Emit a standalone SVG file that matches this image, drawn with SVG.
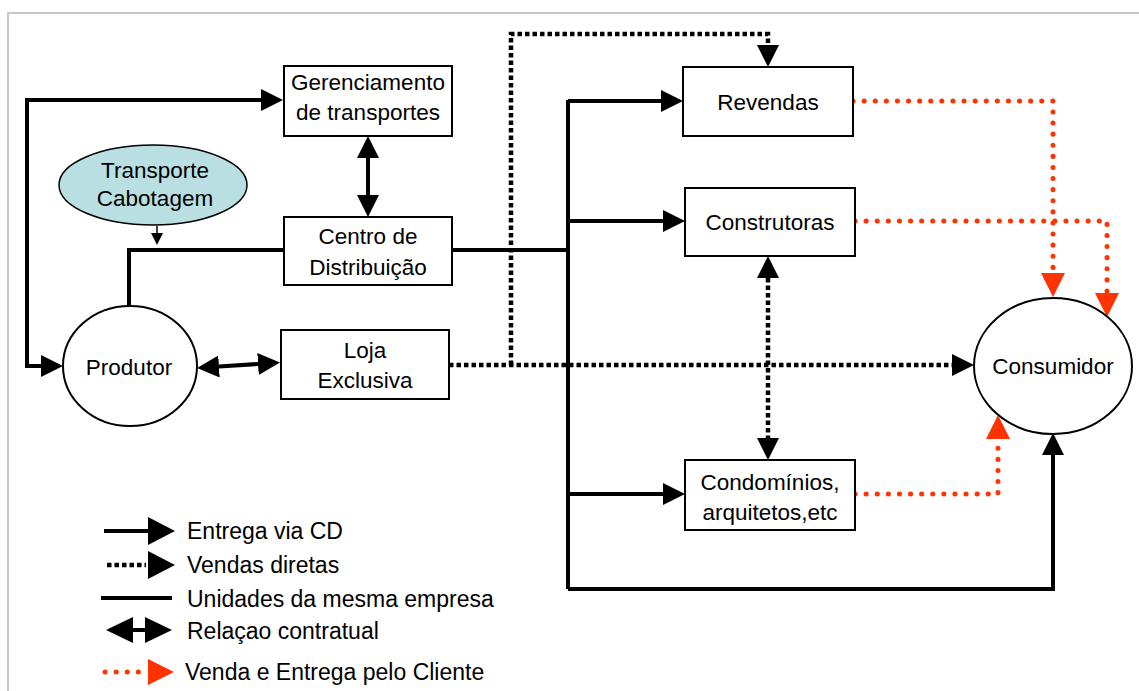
<svg xmlns="http://www.w3.org/2000/svg" width="1139" height="691" viewBox="0 0 1139 691">
  <style>
    .box { fill: #ffffff; stroke: #000000; stroke-width: 2; }
    .oval { fill: #ffffff; stroke: #000000; stroke-width: 2; }
    .sea { fill: #b9dfe2; stroke: #000000; stroke-width: 1.5; }
    .lbl { font-family: "Liberation Sans", Arial, sans-serif; font-size: 22.5px; fill: #000000; text-anchor: middle; }
    .key { font-family: "Liberation Sans", Arial, sans-serif; font-size: 23px; fill: #000000; }
    .solid { fill: none; stroke: #000000; stroke-width: 4; }
    .dots { fill: none; stroke: #000000; stroke-width: 4.5; stroke-dasharray: 4.5 3; }
    .red { fill: none; stroke: #ff3300; stroke-width: 5; stroke-linecap: round; stroke-dasharray: 0.1 11; }
    .frame { fill: none; stroke: #c8c8c8; stroke-width: 2; }
  </style>
  <defs>
    <!-- heads start at the path end and extend beyond it -->
    <marker id="ah" markerUnits="userSpaceOnUse" markerWidth="22" markerHeight="22" viewBox="0 0 22 22" refX="0" refY="11" orient="auto-start-reverse">
      <path d="M0,0 L22,11 L0,22 Z" fill="#000000"/>
    </marker>
    <marker id="ahs" markerUnits="userSpaceOnUse" markerWidth="12" markerHeight="12" viewBox="0 0 12 12" refX="0" refY="6" orient="auto">
      <path d="M0,0 L12,6 L0,12 Z" fill="#000000"/>
    </marker>
    <marker id="ahr" markerUnits="userSpaceOnUse" markerWidth="24" markerHeight="24" viewBox="0 0 24 24" refX="0" refY="12" orient="auto">
      <path d="M0,0 L24,12 L0,24 Z" fill="#ff3300"/>
    </marker>
  </defs>

  <rect width="1139" height="691" fill="#ffffff"/>
  <path class="frame" d="M8,691 V13 H1139"/>

  <g id="connectors">
    <!-- producer loop to transport management -->
    <path class="solid" d="M41,366 H27 V100 H261" marker-start="url(#ah)" marker-end="url(#ah)"/>
    <!-- management <-> distribution centre -->
    <path class="solid" d="M368,158 V195" stroke-width="5" marker-start="url(#ah)" marker-end="url(#ah)"/>
    <!-- coastal shipping feed -->
    <path d="M157,226 V233" stroke="#000000" stroke-width="1.5" marker-end="url(#ahs)"/>
    <!-- distribution centre to producer -->
    <path class="solid" d="M284,250 H129 V307" stroke-width="3"/>
    <!-- producer <-> exclusive store -->
    <path class="solid" d="M219,366.5 L258,364" marker-start="url(#ah)" marker-end="url(#ah)"/>
    <!-- distribution bus -->
    <path class="solid" d="M452,250 H568"/>
    <path class="solid" d="M568,100 V589"/>
    <path class="solid" d="M568,222 V495" stroke-width="6"/>
    <path class="solid" d="M568,101 H661" marker-end="url(#ah)"/>
    <path class="solid" d="M568,221 H663" marker-end="url(#ah)"/>
    <path class="solid" d="M568,494 H663" marker-end="url(#ah)"/>
    <path class="solid" d="M568,589 H1053 V455" marker-end="url(#ah)"/>
    <!-- direct sales -->
    <path class="dots" d="M449,365 H952" marker-end="url(#ah)"/>
    <path class="dots" d="M511,365 V34 H768 V45" marker-end="url(#ah)"/>
    <path class="dots" d="M768,278 V438" marker-start="url(#ah)" marker-end="url(#ah)"/>
    <!-- customer pick-up -->
    <path class="red" d="M853,101 H1053 V273" marker-end="url(#ahr)"/>
    <path class="red" d="M855,221 H1107 V293" marker-end="url(#ahr)"/>
    <path class="red" d="M855,494 H998 V439" marker-end="url(#ahr)"/>
  </g>

  <g id="gerenciamento">
    <rect class="box" x="284" y="66" width="168" height="70"/>
    <text class="lbl" x="368" y="90">Gerenciamento</text>
    <text class="lbl" x="368" y="120">de transportes</text>
  </g>
  <g id="cabotagem">
    <ellipse class="sea" cx="153" cy="185" rx="94" ry="40"/>
    <text class="lbl" x="155" y="178">Transporte</text>
    <text class="lbl" x="155" y="206">Cabotagem</text>
  </g>
  <g id="centro">
    <rect class="box" x="284" y="217" width="168" height="68"/>
    <text class="lbl" x="368" y="244">Centro de</text>
    <text class="lbl" x="368" y="275">Distribuição</text>
  </g>
  <g id="produtor">
    <ellipse class="oval" cx="130" cy="366" rx="67" ry="60"/>
    <text class="lbl" x="129" y="375">Produtor</text>
  </g>
  <g id="loja">
    <rect class="box" x="281" y="330" width="168" height="69"/>
    <text class="lbl" x="365" y="358">Loja</text>
    <text class="lbl" x="365" y="388">Exclusiva</text>
  </g>
  <g id="revendas">
    <rect class="box" x="683" y="67" width="170" height="69"/>
    <text class="lbl" x="768" y="110">Revendas</text>
  </g>
  <g id="construtoras">
    <rect class="box" x="685" y="188" width="170" height="68"/>
    <text class="lbl" x="770" y="230">Construtoras</text>
  </g>
  <g id="condominios">
    <rect class="box" x="685" y="460" width="170" height="70"/>
    <text class="lbl" x="770" y="490">Condomínios,</text>
    <text class="lbl" x="770" y="520">arquitetos,etc</text>
  </g>
  <g id="consumidor">
    <ellipse class="oval" cx="1053" cy="366" rx="79" ry="68"/>
    <text class="lbl" x="1053" y="374">Consumidor</text>
  </g>

  <g id="legend">
    <path class="solid" d="M104,531 H148" stroke-width="5"/>
    <path d="M148,517 L175,531 L148,545 Z" fill="#000000"/>
    <text class="key" x="187" y="539">Entrega via CD</text>

    <path class="dots" d="M107,565 H146"/>
    <path d="M148,551 L175,565 L148,579 Z" fill="#000000"/>
    <text class="key" x="187" y="573">Vendas diretas</text>

    <path class="solid" d="M101,598 H172" stroke-width="6"/>
    <text class="key" x="187" y="607">Unidades da mesma empresa</text>

    <path class="solid" d="M130,630 H148" stroke-width="5"/>
    <path d="M133,617 L106,630 L133,643 Z M145,617 L172,630 L145,643 Z" fill="#000000"/>
    <text class="key" x="187" y="639">Relaçao contratual</text>

    <path class="red" d="M105,672 H143"/>
    <path d="M148,659 L174,672 L148,685 Z" fill="#ff3300"/>
    <text class="key" x="185" y="680">Venda e Entrega pelo Cliente</text>
  </g>
</svg>
